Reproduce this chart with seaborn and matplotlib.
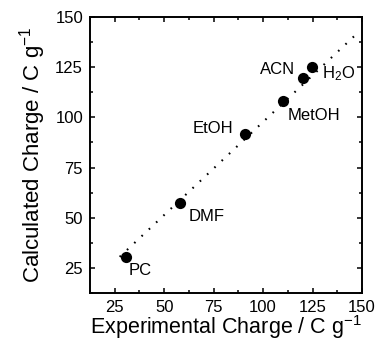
import numpy as np
import pandas as pd
import matplotlib as mpl
mpl.use('Agg')
import matplotlib.pyplot as plt
from matplotlib.ticker import MultipleLocator
import seaborn as sns

# values
solvents = ['PC', 'DMF', 'EtOH', 'MetOH', 'ACN', 'H$_2$O']
exp_charge = [30.5, 58.0, 91.0, 110.0, 120.0, 124.5]
calc_charge = [30.5, 57.5, 91.5, 108.0, 119.5, 125.0]
# dotted guide line (end points)
fit_x = [27.5, 148.7]
fit_y = [30.5, 142.9]

sns.set_style("ticks")
plt.rcParams['font.family'] = ['Liberation Sans', 'DejaVu Sans']
plt.rcParams['mathtext.fontset'] = 'custom'
plt.rcParams['mathtext.rm'] = 'Liberation Sans'
plt.rcParams['mathtext.it'] = 'Liberation Sans:italic'
plt.rcParams['mathtext.bf'] = 'Liberation Sans:bold'
plt.rcParams['text.color'] = 'black'
plt.rcParams['axes.labelcolor'] = 'black'
plt.rcParams['xtick.color'] = 'black'
plt.rcParams['ytick.color'] = 'black'

df = pd.DataFrame({'solvent': solvents, 'exp': exp_charge, 'calc': calc_charge})
line_df = pd.DataFrame({'x': fit_x, 'y': fit_y})

fig = plt.figure(figsize=(3.76, 3.44), dpi=100)
ax = fig.add_axes([0.2394, 0.1483, 0.9628 - 0.2394, 0.9506 - 0.1483])

ax.plot(line_df['x'], line_df['y'], color='black', lw=1.5, linestyle=(0, (0.8, 4.0)))
sns.scatterplot(data=df, x='exp', y='calc', ax=ax, color='black', s=65,
                edgecolor='black', linewidth=0, zorder=3)

# label placement (offset points, alignment)
offsets = {
    'PC': (2, -10, 'left'),
    'DMF': (6.5, -10, 'left'),
    'EtOH': (-9, 4.5, 'right'),
    'MetOH': (3.5, -10, 'left'),
    'ACN': (-5.5, 6.5, 'right'),
    'H$_2$O': (7.5, -5, 'left'),
}
for name, xv, yv in zip(solvents, exp_charge, calc_charge):
    dx, dy, ha = offsets[name]
    ax.annotate(name, (xv, yv), xytext=(dx, dy), textcoords='offset points',
                ha=ha, va='center', fontsize=12)

ax.set_xlim(12.5, 150)
ax.set_ylim(12.5, 150)
ax.xaxis.set_minor_locator(MultipleLocator(12.5))
ax.yaxis.set_minor_locator(MultipleLocator(12.5))
ax.set_xticks([25, 50, 75, 100, 125, 150])
ax.set_yticks([25, 50, 75, 100, 125, 150])
ax.tick_params(which='both', direction='in', top=True, right=True, width=1.1)
ax.tick_params(which='major', length=3.5, labelsize=12, pad=5)
ax.tick_params(which='minor', length=2)
for sp in ax.spines.values():
    sp.set_linewidth(1.4)
    sp.set_color('black')

ax.set_xlabel('Experimental Charge / C g$^{-1}$', fontsize=15.5, labelpad=-1)
ax.set_ylabel('Calculated Charge / C g$^{-1}$', fontsize=16, labelpad=5)

fig.savefig('out.png', dpi=100)
